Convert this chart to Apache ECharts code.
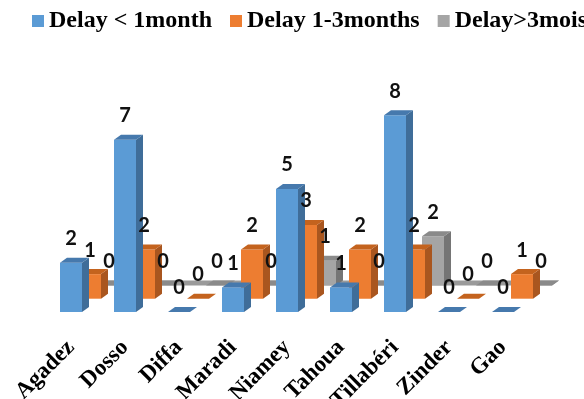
<!DOCTYPE html>
<html>
<head>
<meta charset="utf-8">
<script src="https://cdn.jsdelivr.net/npm/echarts@6/dist/echarts.min.js"></script>
<style>
  html, body { margin: 0; padding: 0; background: #ffffff; }
  #chart { width: 584px; height: 399px; }
</style>
</head>
<body>
<div id="chart"></div>
<script>
// Regions and delay counts
const categories = ['Agadez', 'Dosso', 'Diffa', 'Maradi', 'Niamey', 'Tahoua', 'Tillabéri', 'Zinder', 'Gao'];
const seriesNames = ['Delay < 1month', 'Delay 1-3months', 'Delay>3mois'];
const delayUnder1 = [2, 7, 0, 1, 5, 1, 8, 0, 0];
const delay1to3 = [1, 2, 0, 2, 3, 2, 2, 0, 1];
const delayOver3 = [0, 0, 0, 0, 1, 0, 2, 0, 0];
const seriesValues = [delayUnder1, delay1to3, delayOver3];

// Face colours per series: front, side, top
const palette = [
  { front: '#5B9BD5', side: '#3F6D99', top: '#4679AD' },
  { front: '#ED7D31', side: '#A9561F', top: '#C4631E' },
  { front: '#A5A5A5', side: '#757575', top: '#8A8A8A' }
];

// 3D look: each series row is shifted right/up, each bar has a depth face
const ROW_DX = 19, ROW_DY = -13.3;
const BAR_W = 22, DEPTH_X = 7, DEPTH_Y = -5;

function barRenderer(s) {
  const c = palette[s];
  return function (params, api) {
    const cat = api.value(0), v = api.value(1);
    const base = api.coord([cat, 0]);
    const top = api.coord([cat, v]);
    const x0 = base[0] - BAR_W / 2 + s * ROW_DX;
    const yb = base[1] + s * ROW_DY;
    const yt = top[1] + s * ROW_DY;
    const x1 = x0 + BAR_W;
    const topFace = {
      type: 'polygon',
      shape: { points: [[x0, yt], [x0 + DEPTH_X, yt + DEPTH_Y], [x1 + DEPTH_X, yt + DEPTH_Y], [x1, yt]] },
      style: { fill: c.top }
    };
    if (v === 0) {
      return { type: 'group', children: [topFace] };
    }
    return {
      type: 'group',
      children: [
        { type: 'rect', shape: { x: x0, y: yt, width: BAR_W, height: yb - yt }, style: { fill: c.front } },
        {
          type: 'polygon',
          shape: { points: [[x1, yt], [x1 + DEPTH_X, yt + DEPTH_Y], [x1 + DEPTH_X, yb + DEPTH_Y], [x1, yb]] },
          style: { fill: c.side }
        },
        topFace
      ]
    };
  };
}

function labelRenderer(s) {
  return function (params, api) {
    const cat = api.value(0), v = api.value(1);
    const top = api.coord([cat, v]);
    const cx = top[0] + s * ROW_DX;
    const yt = top[1] + s * ROW_DY;
    return {
      type: 'text',
      style: {
        x: cx, y: yt - 24,
        text: String(v),
        fill: '#111111',
        font: 'bold 20px Lato',
        align: 'center',
        verticalAlign: 'middle'
      }
    };
  };
}

// Floor strip along the back row
function floorRenderer(params, api) {
  const a = api.coord([api.value(0), 0]);
  const b = api.coord([api.value(1), 0]);
  const s = 2;
  const x0 = a[0] - BAR_W / 2 + s * ROW_DX;
  const x1 = b[0] + BAR_W / 2 + s * ROW_DX;
  const y = a[1] + s * ROW_DY;
  return {
    type: 'polygon',
    shape: { points: [[x0, y], [x0 + DEPTH_X, y + DEPTH_Y], [x1 + DEPTH_X, y + DEPTH_Y], [x1, y]] },
    style: { fill: '#9A9A9A' }
  };
}

const series = [{
  type: 'custom',
  name: 'floor',
  renderItem: floorRenderer,
  data: [[0, categories.length - 1]],
  encode: { x: [0, 1] },
  z: 1,
  silent: true
}];

// Back rows first so front rows overlap them
for (let s = 2; s >= 0; s--) {
  series.push({
    type: 'custom',
    name: seriesNames[s],
    renderItem: barRenderer(s),
    itemStyle: { color: palette[s].front },
    data: seriesValues[s].map((v, i) => [i, v]),
    encode: { x: 0, y: 1 },
    z: 2 + (2 - s)
  });
}
for (let s = 2; s >= 0; s--) {
  series.push({
    type: 'custom',
    name: 'labels-' + s,
    renderItem: labelRenderer(s),
    data: seriesValues[s].map((v, i) => [i, v]),
    encode: { x: 0, y: 1 },
    z: 10,
    silent: true
  });
}

const chart = echarts.init(document.getElementById('chart'), null, { renderer: 'canvas' });
chart.setOption({
  animation: false,
  backgroundColor: '#ffffff',
  legend: {
    data: seriesNames,
    left: 32,
    top: 9,
    padding: 0,
    width: 900,
    itemWidth: 12,
    itemHeight: 12,
    itemGap: 18,
    icon: 'rect',
    textStyle: { fontFamily: 'Liberation Serif', fontWeight: 'bold', fontSize: 24, color: '#000000' }
  },
  grid: { left: 44, right: 54, top: 66, bottom: 87, containLabel: false, outerBoundsMode: 'none' },
  xAxis: {
    type: 'category',
    data: categories,
    boundaryGap: true,
    axisLine: { show: false },
    axisTick: { show: false },
    axisLabel: {
      rotate: 45,
      margin: 32,
      interval: 0,
      fontFamily: 'Liberation Serif',
      fontWeight: 'bold',
      fontSize: 23,
      color: '#000000'
    }
  },
  yAxis: {
    type: 'value',
    min: 0,
    max: 10,
    show: false,
    splitLine: { show: false }
  },
  series: series
});
</script>
</body>
</html>
